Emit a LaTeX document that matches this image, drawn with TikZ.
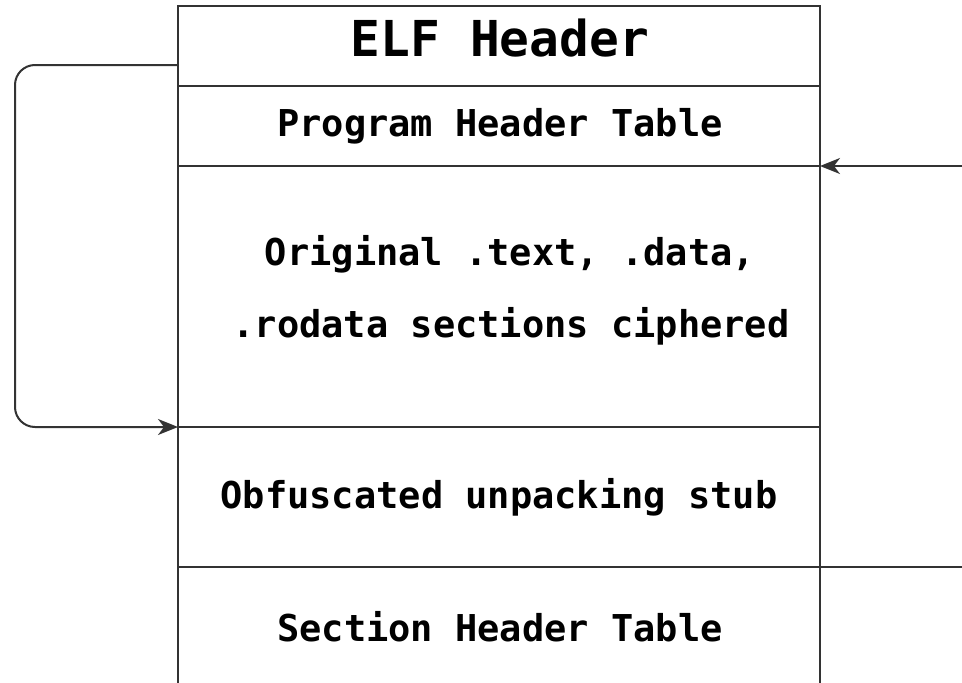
\documentclass[tikz,border=0pt]{standalone}
\usepackage{fontspec}
\setmonofont{DejaVu Sans Mono}
\usetikzlibrary{arrows.meta}
\begin{document}
\begin{tikzpicture}[x=1pt,y=-1pt,
  edge/.style={line width=2pt,draw=black!80},
  lbl/.style={font=\ttfamily\bfseries\fontsize{37}{41}\selectfont,text=black,inner sep=0pt},
  tip/.style={-{Stealth[length=20pt,width=16pt,inset=6pt]}}]
\useasboundingbox[fill=white] (0,0) rectangle (962,683);
% layout frame: outer column and section dividers
\coordinate (tl) at (178,6);
\coordinate (tr) at (820,6);
\coordinate (bl) at (178,683);
\coordinate (br) at (820,683);
\draw[edge] (bl) -- (tl) -- (tr) -- (br);
\foreach \yy in {86,166,427,567} \draw[edge] (178,\yy) -- (820,\yy);
% labels
\node[lbl,font=\ttfamily\bfseries\fontsize{49.5}{54}\selectfont] (elf) at (500,38) {ELF Header};
\node[lbl] (pht) at (500,126) {Program Header Table};
\node[lbl] (orig1) at (510,254) {Original .text, .data,};
\node[lbl] (orig2) at (511,326) {.rodata sections ciphered};
\node[lbl] (stub) at (499,497) {Obfuscated unpacking stub};
\node[lbl] (sht) at (500,627) {Section Header Table};
% connectors
\coordinate (entry) at (178,65);
\coordinate (stubtop) at (178,427);
\draw[edge,tip,rounded corners=20pt] (entry) -- (15,65) -- (15,427) -- (stubtop);
\coordinate (rin) at (962,166);
\coordinate (rhit) at (820,166);
\draw[edge,tip] (rin) -- (rhit);
\coordinate (rout) at (962,567);
\draw[edge] (820,567) -- (rout);
\end{tikzpicture}
\end{document}
